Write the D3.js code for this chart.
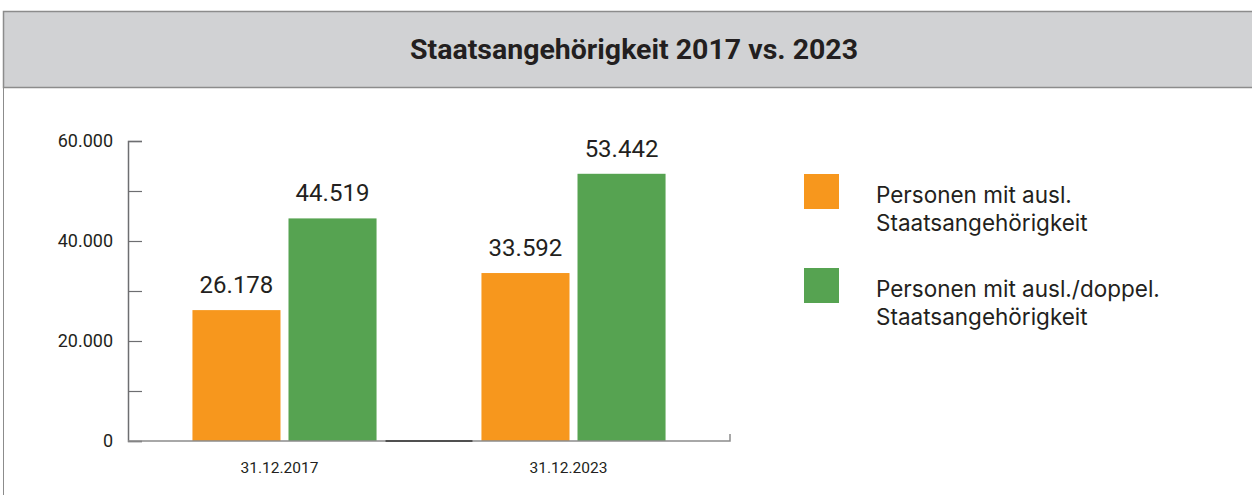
<!DOCTYPE html>
<html>
<head>
<meta charset="utf-8">
<script src="https://cdn.jsdelivr.net/npm/d3@7"></script>
<style>
  body { margin: 0; background: #fff; }
  text { font-family: Roboto, "Noto Sans", sans-serif; fill: #231f20; }
</style>
</head>
<body>
<svg id="chart" width="1252" height="495"></svg>
<script>
// daten
const title = "Staatsangehörigkeit 2017 vs. 2023";
const categories = ["31.12.2017", "31.12.2023"];
const seriesNames = [
  ["Personen mit ausl.", "Staatsangehörigkeit"],
  ["Personen mit ausl./doppel.", "Staatsangehörigkeit"]
];
const auslaendisch = [26178, 33592];
const doppelt = [44519, 53442];
const colors = ["#f7971d", "#56a351"];
const yTicks = [0, 10000, 20000, 30000, 40000, 50000, 60000];
const yTickLabels = ["0", "", "20.000", "", "40.000", "", "60.000"];

const svg = d3.select("#chart");
const fmt = v => d3.format(",")(v).replace(/,/g, ".");

// kopfzeile
svg.append("rect").attr("x", 3.5).attr("y", 11.5).attr("width", 1260).attr("height", 76)
  .attr("fill", "#d1d2d4").attr("stroke", "#8c8c8c").attr("stroke-width", 1.5);
svg.append("line").attr("x1", 3.5).attr("x2", 3.5).attr("y1", 87).attr("y2", 495)
  .attr("stroke", "#8c8c8c").attr("stroke-width", 1);
svg.append("text").attr("x", 634).attr("y", 59).attr("text-anchor", "middle")
  .style("font-size", "28.5px").style("font-weight", "bold")
  .text(title);

// skalen
const y = d3.scaleLinear().domain([0, 60000]).range([441, 141]);
const x0 = d3.scaleBand().domain(categories).range([128, 730]).paddingInner(0.363).paddingOuter(0.223);
const x1 = d3.scaleBand().domain([0, 1]).range([0, x0.bandwidth()]).paddingInner(0.0833);

// y-achse
const yAxis = svg.append("g").attr("transform", "translate(128,0)")
  .call(d3.axisRight(y).tickValues(yTicks).tickSize(14).tickFormat(""));
yAxis.select(".domain").attr("stroke", "#6d6e71").attr("stroke-width", 1.5);
yAxis.selectAll(".tick line").attr("stroke", "#6d6e71").attr("stroke-width", 1.2);

svg.append("g").selectAll("text").data(yTicks).join("text")
  .attr("x", 113).attr("y", d => y(d)).attr("dy", "0.35em")
  .attr("text-anchor", "end").style("font-size", "18px")
  .text((d, i) => yTickLabels[i]);

// balken
const rows = categories.map((c, i) => ({ cat: c, values: [auslaendisch[i], doppelt[i]] }));
const groups = svg.append("g").selectAll("g").data(rows).join("g")
  .attr("transform", d => `translate(${x0(d.cat)},0)`);

groups.selectAll("rect").data(d => d.values).join("rect")
  .attr("x", (d, i) => x1(i)).attr("width", x1.bandwidth())
  .attr("y", d => y(d)).attr("height", d => y(0) - y(d))
  .attr("fill", (d, i) => colors[i]);

groups.selectAll("text.val").data(d => d.values).join("text")
  .attr("class", "val")
  .attr("x", (d, i) => x1(i) + x1.bandwidth() / 2).attr("y", d => y(d) - 17)
  .attr("text-anchor", "middle").style("font-size", "24px")
  .text(d => fmt(d));

// x-achse
svg.append("path")
  .attr("d", `M128,${y(0)}H730V${y(0) - 7}`)
  .attr("fill", "none").attr("stroke", "#8c8c8c").attr("stroke-width", 1.5);
svg.append("line")
  .attr("x1", x0(categories[0]) + x0.bandwidth() + 9).attr("x2", x0(categories[1]) - 9)
  .attr("y1", y(0)).attr("y2", y(0)).attr("stroke", "#333").attr("stroke-width", 1.5);

svg.append("g").selectAll("text").data(categories).join("text")
  .attr("x", d => x0(d) + x0.bandwidth() / 2 - 5).attr("y", 473)
  .attr("text-anchor", "middle").style("font-size", "15.5px")
  .text(d => d);

// legende
const legend = svg.append("g").selectAll("g").data(seriesNames).join("g")
  .attr("transform", (d, i) => `translate(804,${174 + i * 94})`);
legend.append("rect").attr("width", 35).attr("height", 35).attr("fill", (d, i) => colors[i]);
legend.append("text").attr("x", 72).attr("y", 29).style("font-size", "22.5px")
  .style("font-family", "Inter, Roboto, sans-serif")
  .selectAll("tspan").data(d => d).join("tspan")
  .attr("x", 72).attr("dy", (d, i) => i ? 28 : 0).text(d => d);
</script>
</body>
</html>
